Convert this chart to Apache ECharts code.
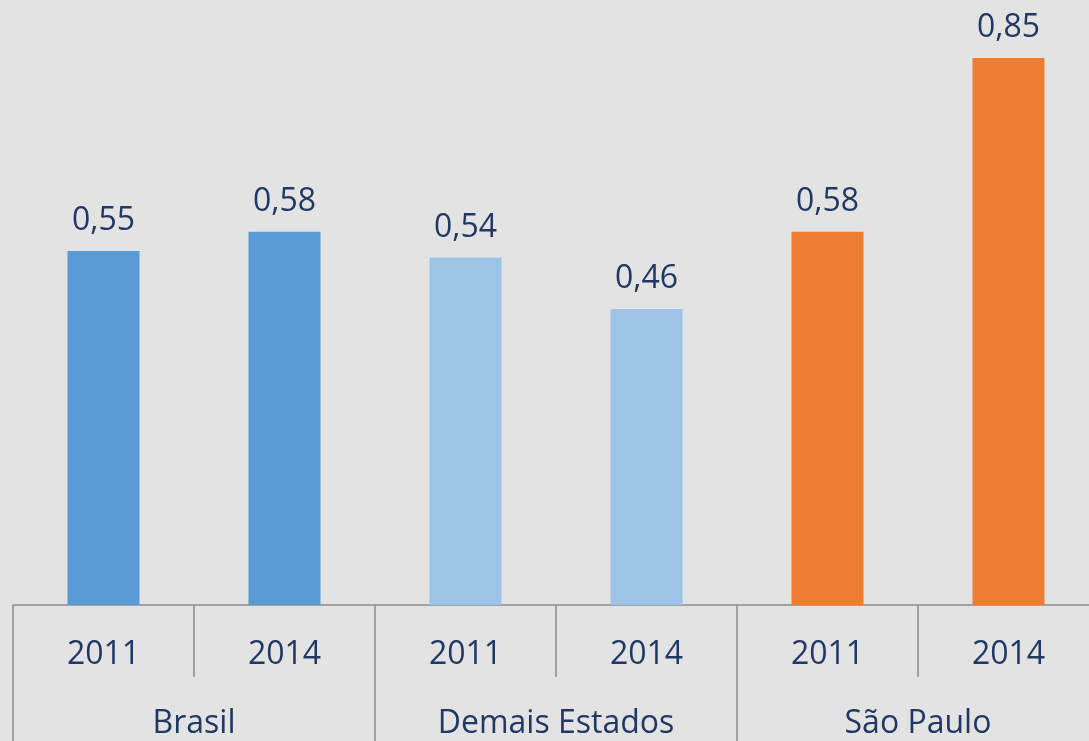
<!DOCTYPE html>
<html>
<head>
<meta charset="utf-8">
<title>Brasil / Demais Estados / São Paulo</title>
<script src="https://cdn.jsdelivr.net/npm/echarts@6/dist/echarts.min.js"></script>
<style>
	html, body { margin: 0; padding: 0; background: #e3e3e3; overflow: hidden; }
	#main { width: 1100px; height: 741px; }
</style>
</head>
<body>
<div id="main"></div>
<script>
	// 数据
	var years = ['2011', '2014', '2011', '2014', '2011', '2014'];
	var groups = ['Brasil', 'Demais Estados', 'São Paulo'];
	var values = [0.55, 0.58, 0.54, 0.46, 0.58, 0.85];
	var barColors = ['#5b9bd5', '#5b9bd5', '#9dc3e6', '#9dc3e6', '#ed7d31', '#ed7d31'];

	var textColor = '#1f3864',
		lineColor = '#8c8c8c',
		font = 'Open Sans';

	var myChart = echarts.init(document.getElementById('main'));

	var option = {
		backgroundColor: '#e3e3e3',
		animation: false,
		grid: {
			left: 13,
			right: 1,
			top: 0,
			bottom: 136,
			containLabel: false
		},
		xAxis: [{
				type: 'category',
				data: years,
				position: 'bottom',
				axisLine: { show: true, lineStyle: { color: lineColor, width: 1.5 } },
				axisTick: { show: true, alignWithLabel: false, interval: 0, length: 72, lineStyle: { color: lineColor, width: 1.5 } },
				axisLabel: { interval: 0, margin: 34, color: textColor, fontSize: 32, fontFamily: font }
			},
			{
				type: 'category',
				data: groups,
				position: 'bottom',
				axisLine: { show: false },
				axisTick: { show: true, alignWithLabel: false, interval: 0, length: 160, lineStyle: { color: lineColor, width: 1.5 } },
				axisLabel: { interval: 0, margin: 103, color: textColor, fontSize: 32, fontFamily: font }
			}
		],
		yAxis: {
			type: 'value',
			min: 0,
			max: 0.94,
			show: false,
			splitLine: { show: false }
		},
		series: [{
			type: 'bar',
			xAxisIndex: 0,
			barWidth: 72,
			data: values.map(function(v, i) {
				return { value: v, itemStyle: { color: barColors[i] } };
			}),
			label: {
				show: true,
				position: 'top',
				distance: 14,
				color: textColor,
				fontSize: 32,
				fontFamily: font,
				formatter: function(p) {
					return p.value.toFixed(2).replace('.', ',');
				}
			}
		}]
	};

	myChart.setOption(option);
</script>
</body>
</html>
